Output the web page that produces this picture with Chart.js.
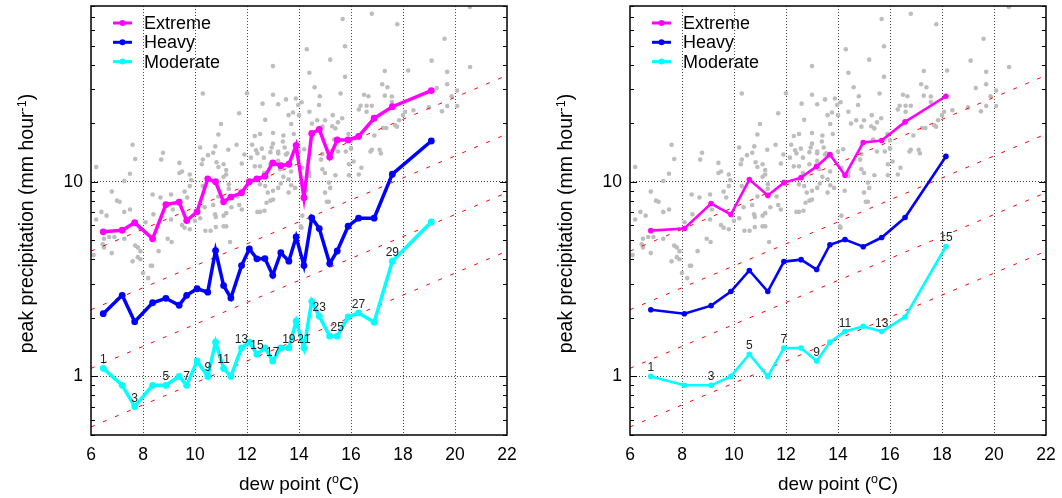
<!DOCTYPE html>
<html>
<head>
<meta charset="utf-8">
<script src="https://cdn.jsdelivr.net/npm/chart.js@4.4.1/dist/chart.umd.min.js"></script>
<style>
  html, body { margin: 0; padding: 0; background: #fff; }
  body { width: 1062px; height: 498px; position: relative; overflow: hidden; }
  .panel { position: absolute; top: 0; width: 523px; height: 498px; }
  #left { left: 0; }
  #right { left: 539px; }
</style>
</head>
<body>
<div class="panel" id="left"><canvas id="leftChart" width="523" height="498"></canvas></div>
<div class="panel" id="right"><canvas id="rightChart" width="523" height="498"></canvas></div>
<script>
// axis ticks
const xTicks = [6, 8, 10, 12, 14, 16, 18, 20, 22];
const yTicks = [1, 10];
const yMinorTicks = [0.5, 0.6, 0.7, 0.8, 0.9, 2, 3, 4, 5, 6, 7, 8, 9, 20, 30, 40, 50, 60, 70, 80];
const seriesNames = ['Extreme', 'Heavy', 'Moderate'];

// left panel: binned peak precipitation vs dew point
const leftDew = [6.47, 7.20, 7.68, 8.37, 8.88, 9.39, 9.68, 10.08, 10.49, 10.79,
  11.10, 11.38, 11.79, 12.09, 12.38, 12.69, 12.99, 13.30, 13.61, 13.89,
  14.19, 14.49, 14.78, 15.18, 15.47, 15.89, 16.29, 16.89, 17.59, 19.09];
const leftExtreme = [5.53, 5.64, 6.16, 5.09, 7.64, 7.86, 6.32, 7.01, 10.36, 10.0,
  7.89, 8.34, 8.78, 10.0, 10.36, 10.69, 12.5, 12.1, 12.3, 15.4,
  8.28, 17.7, 18.6, 13.4, 16.4, 16.4, 17.1, 21.2, 24.3, 29.4];
const leftHeavy = [2.10, 2.61, 1.91, 2.39, 2.52, 2.32, 2.61, 2.82, 2.71, 4.43,
  2.93, 2.53, 3.71, 4.52, 4.02, 4.03, 3.31, 4.32, 3.91, 5.21,
  3.71, 6.53, 5.75, 3.80, 4.41, 5.91, 6.50, 6.50, 10.94, 16.2];
const leftModerate = [1.10, 0.90, 0.70, 0.90, 0.90, 1.0, 0.90, 1.20, 1.0, 1.50,
  1.10, 1.0, 1.40, 1.50, 1.30, 1.40, 1.20, 1.40, 1.40, 1.92,
  1.40, 2.43, 2.04, 1.61, 1.61, 2.02, 2.12, 1.90, 3.91, 6.22];

// right panel
const rightDew = [6.80, 8.09, 9.12, 9.88, 10.59, 11.30, 11.92, 12.58, 13.18, 13.69,
  14.27, 14.97, 15.68, 16.58, 18.15];
const rightExtreme = [5.61, 5.75, 7.73, 6.79, 10.27, 8.51, 9.9, 10.5, 12.0, 13.8,
  10.8, 15.9, 16.3, 20.3, 27.5];
const rightHeavy = [2.20, 2.10, 2.31, 2.73, 3.50, 2.73, 3.89, 3.98, 3.54, 4.75,
  5.05, 4.64, 5.17, 6.55, 13.5];
const rightModerate = [1.0, 0.90, 0.90, 1.0, 1.30, 1.0, 1.40, 1.40, 1.20, 1.50,
  1.70, 1.81, 1.70, 2.02, 4.65];

// dashed scaling lines (values at 6 and 22 degC)
const refDew = [6, 22];
const refLines = [[0.55, 4.4], [1.1, 8.8], [2.2, 17.6], [4.4, 35.2]];

// grey cloud of individual events (same in both panels)
const cloudDew = [
  7.6, 8.77, 10.3, 11.0, 10.9, 10.78, 10.2, 10.7, 11.28, 11.6,
  11.7, 12.0, 12.2, 12.3, 12.5, 12.4, 12.6, 12.7, 13.0, 13.0,
  13.2, 13.0, 13.0, 12.95, 12.9, 13.5, 13.4, 13.38, 13.2, 13.45,
  13.6, 13.77, 13.7, 13.8, 13.88, 13.97, 13.55, 12.57, 14.0, 14.1,
  14.3, 14.4, 14.6, 14.4, 14.8, 14.77, 14.7, 14.5, 15.0, 14.9,
  15.2, 15.3, 15.28, 15.4, 15.5, 15.66, 15.6, 15.68, 15.77, 15.77,
  15.9, 16.0, 15.8, 16.3, 16.37, 16.5, 16.67, 16.6, 16.6, 16.8,
  16.8, 16.8, 16.9, 17.1, 17.2, 17.3, 17.4, 17.3, 17.23, 17.36,
  17.57, 17.57, 17.78, 17.77, 18.0, 18.2, 18.08, 18.4, 19.1, 19.3,
  19.0, 19.6, 19.7, 19.7, 19.7, 19.5, 19.87, 20.08, 20.08, 20.57,
  20.58, 15.5, 15.35, 16.0, 17.85, 17.7, 6.2, 7.7, 7.5, 7.28,
  6.8, 7.0, 7.1, 7.5, 7.28, 6.4, 6.2, 6.6, 6.5, 6.7,
  6.9, 6.45, 6.5, 6.1, 6.8, 7.28, 7.7, 7.8, 7.9, 7.8,
  7.9, 8.6, 8.3, 8.35, 8.1, 8.4, 7.9, 8.37, 8.67, 9.08,
  9.08, 9.15, 8.7, 9.4, 9.4, 9.5, 9.8, 9.85, 9.8, 9.7,
  9.6, 9.5, 9.6, 9.8, 9.1, 8.95, 10.0, 10.2, 10.37, 10.3,
  10.26, 10.3, 10.5, 10.4, 10.6, 10.8, 10.77, 10.8, 10.7, 10.9,
  11.1, 11.2, 11.1, 11.2, 11.35, 11.1, 11.2, 11.1, 11.2, 10.9,
  10.83, 11.3, 11.3, 11.4, 11.7, 11.64, 11.8, 11.8, 11.9, 12.15,
  12.3, 12.35, 12.65, 12.9, 12.5, 12.65, 12.5, 12.7, 12.8, 13.0,
  13.0, 12.75, 12.9, 12.67, 12.4, 12.5, 13.27, 13.2, 13.5, 13.2,
  13.4, 13.6, 13.2, 13.3, 13.7, 13.6, 13.7, 13.85, 14.0, 14.13,
  14.4, 14.4, 14.26, 14.13, 14.07, 14.1, 14.9, 15.0, 15.4, 15.15,
  15.2, 15.0, 15.07, 15.15, 15.92, 16.1, 16.4, 16.3, 15.92, 16.0,
  16.75, 17.15, 14.9, 14.85, 14.2, 8.0, 8.2, 7.6];
const cloudPeak = [
  15.5, 14.1, 28.4, 19.8, 17.5, 15.2, 15.0, 14.1, 14.6, 15.5,
  22.5, 28.5, 15.5, 17.2, 17.6, 14.0, 25.2, 20.8, 39.3, 28.0,
  25.0, 17.8, 15.7, 15.0, 14.2, 26.5, 17.3, 16.1, 14.3, 15.0,
  22.0, 22.7, 19.8, 17.6, 26.8, 24.8, 14.0, 14.8, 22.0, 25.6,
  48.0, 36.3, 30.6, 22.9, 27.5, 24.8, 20.7, 19.9, 20.7, 19.2,
  42.4, 22.0, 19.3, 18.8, 20.2, 21.2, 28.4, 68.6, 49.7, 34.6,
  17.6, 14.8, 14.3, 23.5, 24.6, 28.0, 27.5, 24.6, 22.9, 24.6,
  73.0, 14.6, 17.3, 14.6, 31.7, 37.1, 30.6, 27.7, 18.9, 18.9,
  27.4, 25.7, 64.5, 19.2, 22.0, 37.3, 22.9, 23.3, 41.9, 30.3,
  24.1, 54.3, 36.7, 31.7, 24.5, 23.0, 27.5, 29.4, 24.5, 79.0,
  38.9, 14.3, 16.5, 16.3, 20.7, 19.5, 11.9, 13.1, 11.0, 10.1,
  8.9, 8.0, 7.9, 7.2, 7.0, 7.0, 6.4, 6.7, 5.1, 5.2,
  5.2, 4.77, 4.6, 4.2, 4.3, 5.1, 4.7, 4.6, 4.4, 4.1,
  4.0, 4.4, 3.7, 3.7, 6.2, 6.8, 5.7, 8.6, 8.3, 8.6,
  6.4, 7.2, 13.0, 12.5, 11.1, 11.3, 10.9, 10.2, 9.5, 8.3,
  8.9, 6.0, 5.8, 5.7, 4.9, 5.1, 6.3, 6.5, 7.4, 9.5,
  12.3, 13.0, 13.7, 5.6, 5.6, 5.85, 6.8, 6.6, 7.6, 8.4,
  6.7, 6.9, 5.9, 5.9, 4.9, 12.3, 11.5, 10.6, 10.9, 11.9,
  12.6, 9.7, 9.2, 7.4, 7.6, 8.4, 7.2, 12.4, 13.8, 13.3,
  12.0, 14.5, 13.3, 12.3, 12.0, 11.1, 9.7, 9.5, 8.8, 9.0,
  8.1, 7.8, 8.0, 7.1, 7.0, 7.0, 11.6, 12.8, 13.8, 14.0,
  10.6, 10.3, 9.3, 9.8, 9.6, 8.8, 11.3, 9.3, 14.3, 11.8,
  11.1, 10.7, 9.0, 6.7, 5.9, 5.8, 11.6, 11.1, 10.8, 9.9,
  9.3, 8.8, 7.9, 7.9, 12.3, 12.7, 11.8, 10.9, 10.8, 14.9,
  14.3, 14.0, 13.9, 13.0, 14.7, 3.4, 3.2, 3.9];

const FONT = '"Liberation Sans", Arial, sans-serif';
const colors = ['#ff00ff', '#0000ff', '#00ffff'];
Chart.defaults.font.family = FONT;

function pairs(xs, ys) {
  return xs.map((x, i) => ({ x: x, y: ys[i] }));
}

// border, inward ticks, legend, point numbers, axis titles
const decor = {
  id: 'decor',
  afterDatasetsDraw(chart) {
    const ctx = chart.ctx;
    const a = chart.chartArea;
    const y = chart.scales.y;
    ctx.save();
    // numbers on moderate series
    const meta = chart.getDatasetMeta(2);
    ctx.font = '12px ' + FONT;
    ctx.fillStyle = '#222';
    ctx.textAlign = 'center';
    ctx.textBaseline = 'alphabetic';
    meta.data.forEach((pt, i) => {
      if (i % 2 === 0) ctx.fillText(String(i + 1), pt.x, pt.y - 5);
    });
    // frame
    ctx.strokeStyle = '#000';
    ctx.lineWidth = 1.5;
    ctx.strokeRect(a.left, a.top, a.right - a.left, a.bottom - a.top);
    ctx.lineWidth = 1;
    yMinorTicks.concat(yTicks).forEach(v => {
      const len = yTicks.includes(v) ? 7 : 4;
      const py = Math.round(y.getPixelForValue(v)) + 0.5;
      ctx.beginPath();
      ctx.moveTo(a.left, py); ctx.lineTo(a.left + len, py);
      ctx.moveTo(a.right, py); ctx.lineTo(a.right - len, py);
      ctx.stroke();
    });
    // legend
    ctx.textAlign = 'left';
    ctx.textBaseline = 'middle';
    ctx.font = '18px ' + FONT;
    seriesNames.forEach((name, i) => {
      const ly = a.top + 17 + i * 19.3;
      ctx.strokeStyle = colors[i];
      ctx.fillStyle = colors[i];
      ctx.lineWidth = 3;
      ctx.beginPath();
      ctx.moveTo(a.left + 22, ly); ctx.lineTo(a.left + 41, ly);
      ctx.stroke();
      ctx.beginPath();
      ctx.arc(a.left + 31.5, ly, 3, 0, Math.PI * 2);
      ctx.fill();
      ctx.fillStyle = '#000';
      ctx.fillText(name, a.left + 53, ly + 1);
    });
    ctx.restore();
  },
  afterDraw(chart) {
    const ctx = chart.ctx;
    const a = chart.chartArea;
    ctx.save();
    ctx.fillStyle = '#000';
    ctx.textBaseline = 'alphabetic';
    ctx.textAlign = 'left';
    const big = '19px ' + FONT, small = '12.5px ' + FONT;
    // x title
    const xt = [['dew point (', big, 0], ['o', small, -7], ['C)', big, 0]];
    let widths = xt.map(p => { ctx.font = p[1]; return ctx.measureText(p[0]).width; });
    let total = widths.reduce((s, w) => s + w, 0);
    let cx = (a.left + a.right) / 2 - total / 2;
    xt.forEach((p, i) => { ctx.font = p[1]; ctx.fillText(p[0], cx, 490 + p[2]); cx += widths[i]; });
    // y title
    const ybig = '19.5px ' + FONT;
    const yt = [['peak precipitation (mm hour', ybig, 0], ['-1', small, -7], [')', ybig, 0]];
    widths = yt.map(p => { ctx.font = p[1]; return ctx.measureText(p[0]).width; });
    total = widths.reduce((s, w) => s + w, 0);
    ctx.translate(33, (a.top + a.bottom) / 2 + 3);
    ctx.rotate(-Math.PI / 2);
    cx = -total / 2;
    yt.forEach((p, i) => { ctx.font = p[1]; ctx.fillText(p[0], cx, p[2]); cx += widths[i]; });
    ctx.restore();
  }
};

function makeChart(id, dew, extreme, heavy, moderate, lw, pr) {
  const datasets = [extreme, heavy, moderate].map((vals, i) => ({
    label: seriesNames[i],
    data: pairs(dew, vals),
    showLine: true,
    borderColor: colors[i],
    backgroundColor: colors[i],
    borderWidth: lw,
    pointRadius: pr,
    pointBorderWidth: 0,
    order: 1
  }));
  refLines.forEach(r => datasets.push({
    data: pairs(refDew, r),
    showLine: true,
    borderColor: '#ff0000',
    borderWidth: 1,
    borderDash: [4, 9],
    pointRadius: 0,
    order: 2
  }));
  datasets.push({
    data: pairs(cloudDew, cloudPeak),
    backgroundColor: '#bdbdbd',
    pointRadius: 2.3,
    pointBorderWidth: 0,
    order: 3
  });

  const gridColor = ctx => (ctx.tick && (ctx.tick.value === 6 || ctx.tick.value === 22)) ? 'rgba(0,0,0,0)' : '#444';

  new Chart(document.getElementById(id), {
    type: 'scatter',
    data: { datasets: datasets },
    options: {
      responsive: false,
      animation: false,
      layout: { padding: { left: 0, right: 16, top: 6, bottom: 0 } },
      plugins: { legend: { display: false }, tooltip: { enabled: false } },
      scales: {
        x: {
          type: 'linear', min: 6, max: 22,
          afterBuildTicks: s => { s.ticks = xTicks.map(v => ({ value: v })); },
          afterFit: s => { s.height = 63; s.paddingLeft = 0; s.paddingRight = 0; },
          grid: { drawTicks: false, color: gridColor, lineWidth: 1 },
          border: { display: false, dash: [1, 2] },
          ticks: { color: '#000', font: { size: 17.5 }, padding: 10, maxRotation: 0, autoSkip: false }
        },
        y: {
          type: 'logarithmic', min: 0.5, max: 80,
          afterBuildTicks: s => { s.ticks = yTicks.map(v => ({ value: v })); },
          afterFit: s => { s.width = 91; s.paddingTop = 0; s.paddingBottom = 0; },
          grid: { drawTicks: false, color: '#444', lineWidth: 1 },
          border: { display: false, dash: [1, 2] },
          ticks: { color: '#000', font: { size: 17.5 }, padding: 8, callback: v => String(v) }
        }
      }
    },
    plugins: [decor]
  });
}

makeChart('leftChart', leftDew, leftExtreme, leftHeavy, leftModerate, 3.5, 3.4);
makeChart('rightChart', rightDew, rightExtreme, rightHeavy, rightModerate, 2.6, 2.8);
</script>
</body>
</html>
